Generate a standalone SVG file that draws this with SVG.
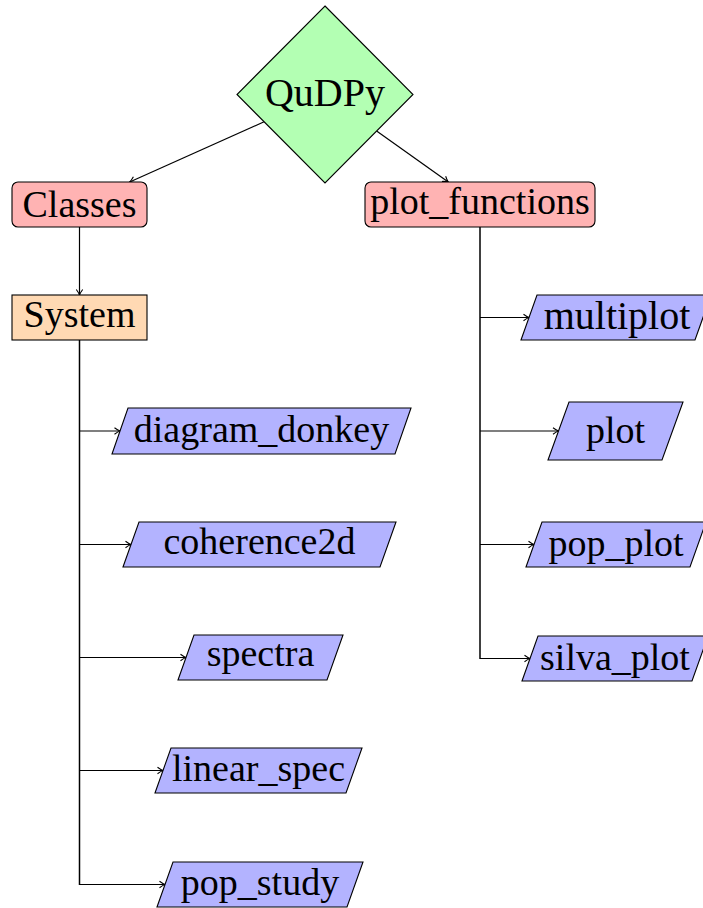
<svg xmlns="http://www.w3.org/2000/svg" width="703" height="908" viewBox="0 0 703 908">
<style>
text{font-family:"Liberation Serif","Times New Roman",serif;font-size:38px;fill:#000;text-anchor:middle}
.n{stroke:#000;stroke-width:1.1}
.g{fill:#b3ffb3}.r{fill:#ffb3b3}.o{fill:#ffd9b3}.b{fill:#b3b3ff}
.c{fill:none;stroke:#000;stroke-width:1.2}
.t{fill:none;stroke:#000;stroke-width:1.5}
</style>
<defs>
<marker id="ah" markerUnits="userSpaceOnUse" markerWidth="10" markerHeight="10" viewBox="-7 -5 10 10" refX="0" refY="0" orient="auto">
<path d="M-5.5,-3.2 Q-2,-0.6 0,0 Q-2,0.6 -5.5,3.2" fill="none" stroke="#000" stroke-width="1.1"/>
</marker>
</defs>
<rect width="703" height="908" fill="#fff"/>
<g id="connectors">
<line class="c" x1="264.1" y1="121.8" x2="129.7" y2="182" marker-end="url(#ah)"/>
<line class="c" x1="376.6" y1="131.1" x2="448.3" y2="182" marker-end="url(#ah)"/>
<line class="c" x1="79.5" y1="227" x2="79.5" y2="295" marker-end="url(#ah)"/>
<line class="t" x1="79.5" y1="340" x2="79.5" y2="885"/>
<polyline class="c" points="79.5,431 120,431" marker-end="url(#ah)"/>
<polyline class="c" points="79.5,544.5 131,544.5" marker-end="url(#ah)"/>
<polyline class="c" points="79.5,657.5 186,657.5" marker-end="url(#ah)"/>
<polyline class="c" points="79.5,770.5 163,770.5" marker-end="url(#ah)"/>
<polyline class="c" points="79.5,884.5 165,884.5" marker-end="url(#ah)"/>
<line class="t" x1="480" y1="227" x2="480" y2="659"/>
<polyline class="c" points="480,317.5 529,317.5" marker-end="url(#ah)"/>
<polyline class="c" points="480,431 558.5,431" marker-end="url(#ah)"/>
<polyline class="c" points="480,544.5 534,544.5" marker-end="url(#ah)"/>
<polyline class="c" points="480,658.5 530,658.5" marker-end="url(#ah)"/>
</g>
<g id="qudpy">
<polygon class="n g" points="325,6 413,94.5 325,183 237,94.5"/>
<text x="325" y="106" style="font-size:40px">QuDPy</text>
</g>
<g id="classes">
<rect class="n r" x="12" y="182" width="135" height="45" rx="6"/>
<text x="79.5" y="217">Classes</text>
</g>
<g id="plot_functions">
<rect class="n r" x="365" y="182" width="230" height="45" rx="6"/>
<text x="480" y="214">plot_functions</text>
</g>
<g id="system">
<rect class="n o" x="12" y="295" width="135" height="45"/>
<text x="79.5" y="327">System</text>
</g>
<g id="diagram_donkey">
<polygon class="n b" points="112,454 128,408 411,408 395,454"/>
<text x="261.5" y="442">diagram_donkey</text>
</g>
<g id="coherence2d">
<polygon class="n b" points="123,567 139,522 396,522 380,567"/>
<text x="259.5" y="554">coherence2d</text>
</g>
<g id="spectra">
<polygon class="n b" points="178,680 194,635 343,635 327,680"/>
<text x="260.5" y="666">spectra</text>
</g>
<g id="linear_spec">
<polygon class="n b" points="155,793 171,748 362,748 346,793"/>
<text x="258.5" y="781">linear_spec</text>
</g>
<g id="pop_study">
<polygon class="n b" points="157,907 173,862 363,862 347,907"/>
<text x="260" y="895">pop_study</text>
</g>
<g id="multiplot">
<polygon class="n b" points="521,340 537,295 711,295 695,340"/>
<text x="617" y="329" style="font-size:40px">multiplot</text>
</g>
<g id="plot">
<polygon class="n b" points="548,460 569,402 683,402 662,460"/>
<text x="615.5" y="443">plot</text>
</g>
<g id="pop_plot">
<polygon class="n b" points="526,567 542,522 706,522 690,567"/>
<text x="616" y="556">pop_plot</text>
</g>
<g id="silva_plot">
<polygon class="n b" points="522,681 538,636 708,636 692,681"/>
<text x="615" y="670">silva_plot</text>
</g>
</svg>
